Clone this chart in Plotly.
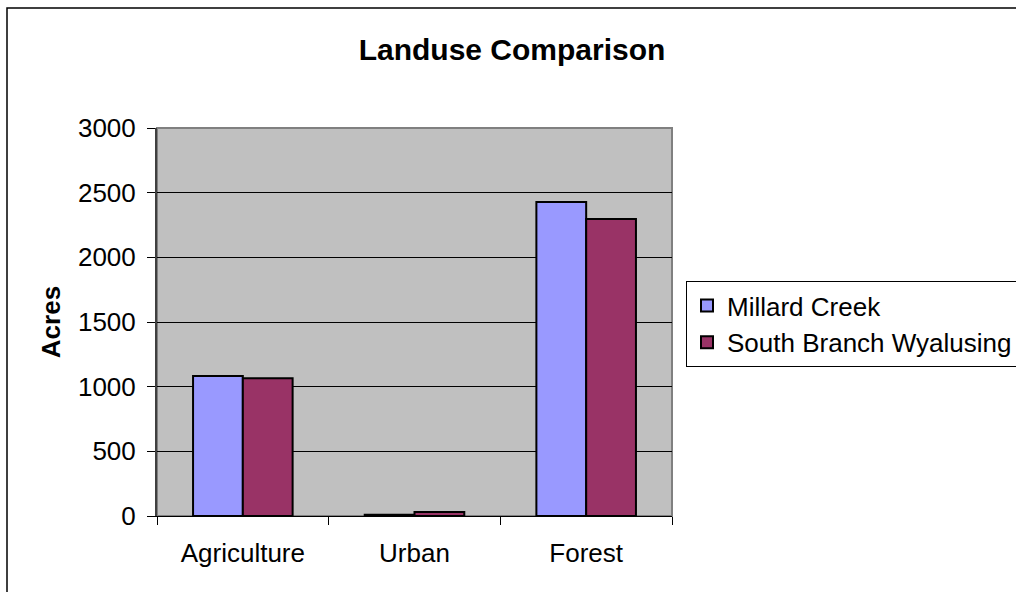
import plotly.graph_objects as go

categories = ["Agriculture", "Urban", "Forest"]
millard = [1083, 10, 2428]
south_branch = [1065, 30, 2297]
y_ticks = [0, 500, 1000, 1500, 2000, 2500, 3000]

FONT = "Liberation Sans, Arial, sans-serif"
FS = 26

fig = go.Figure()
fig.add_trace(go.Bar(x=categories, y=millard, name="Millard Creek",
                     marker=dict(color="#9999FF", line=dict(color="black", width=2))))
fig.add_trace(go.Bar(x=categories, y=south_branch, name="South Branch Wyalusing",
                     marker=dict(color="#993366", line=dict(color="black", width=2))))

fig.update_layout(
    width=1016, height=592,
    margin=dict(l=157, r=344, t=128, b=76, autoexpand=False),
    paper_bgcolor="white", plot_bgcolor="#C0C0C0",
    font=dict(family=FONT, size=FS, color="black"),
    title=dict(text="<b>Landuse Comparison</b>", x=512 / 1016, xanchor="center",
               y=1 - 49 / 592, yanchor="middle", font=dict(size=30)),
    barmode="group", bargap=0.42, bargroupgap=0,
    showlegend=True,
    legend=dict(x=(686 - 157) / 515, xanchor="left", y=(516 - 281) / 388, yanchor="top",
                bordercolor="black", borderwidth=1, bgcolor="white",
                font=dict(size=FS), itemsizing="constant", tracegroupgap=0),
    xaxis=dict(type="category", tickson="boundaries", ticks="outside", ticklen=8,
               tickcolor="black", showline=True, linecolor="black", linewidth=1,
               showgrid=False, tickfont=dict(size=FS), ticklabelstandoff=14),
    yaxis=dict(range=[0, 3000], tickvals=y_ticks, ticks="outside", ticklen=8,
               tickcolor="black", showline=True, linecolor="#404040", linewidth=2,
               showgrid=True, gridcolor="black", gridwidth=1, zeroline=False,
               title=dict(text="<b>Acres</b>", font=dict(size=FS), standoff=10),
               tickfont=dict(size=FS), ticklabelstandoff=6),
    shapes=[
        dict(type="rect", xref="paper", yref="paper", x0=0, x1=1, y0=0, y1=1,
             line=dict(color="#808080", width=2), layer="below"),
        dict(type="rect", xref="paper", yref="paper",
             x0=(7 - 157) / 515, x1=(1030 - 157) / 515,
             y0=(516 - 600) / 388, y1=(516 - 8) / 388,
             line=dict(color="black", width=1.5), layer="below"),
    ],
)

fig.write_html("out.html")
